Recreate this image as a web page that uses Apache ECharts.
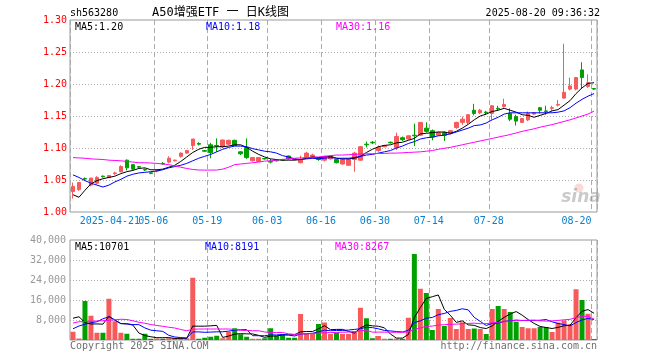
<!DOCTYPE html>
<html><head><meta charset="utf-8">
<script src="https://cdn.jsdelivr.net/npm/echarts/dist/echarts.min.js"></script>
<style>html,body{margin:0;padding:0;background:#fff}#c{width:660px;height:360px}</style>
</head><body><div id="c"></div>
<script>
const dates = ['2025-04-10','2025-04-11','2025-04-14','2025-04-15','2025-04-16','2025-04-17','2025-04-18','2025-04-21','2025-04-22','2025-04-23',
'2025-04-24','2025-04-25','2025-04-28','2025-04-29','2025-05-06','2025-05-07','2025-05-08','2025-05-09','2025-05-12','2025-05-13',
'2025-05-14','2025-05-15','2025-05-16','2025-05-19','2025-05-20','2025-05-21','2025-05-22','2025-05-23','2025-05-26','2025-05-27',
'2025-05-28','2025-05-29','2025-05-30','2025-06-03','2025-06-04','2025-06-05','2025-06-06','2025-06-09','2025-06-10','2025-06-11',
'2025-06-12','2025-06-13','2025-06-16','2025-06-17','2025-06-18','2025-06-19','2025-06-23','2025-06-24','2025-06-25','2025-06-26',
'2025-06-27','2025-06-30','2025-07-01','2025-07-02','2025-07-03','2025-07-07','2025-07-08','2025-07-09','2025-07-10','2025-07-11',
'2025-07-14','2025-07-15','2025-07-16','2025-07-17','2025-07-18','2025-07-21','2025-07-22','2025-07-23','2025-07-24','2025-07-25',
'2025-07-28','2025-07-29','2025-07-30','2025-07-31','2025-08-01','2025-08-04','2025-08-05','2025-08-06','2025-08-07','2025-08-08',
'2025-08-11','2025-08-12','2025-08-13','2025-08-14','2025-08-15','2025-08-18','2025-08-19','2025-08-20'];

const opens = [1.032,1.035,1.0522,1.042,1.045,1.056,1.054,1.060,1.063,1.081,
1.074,1.071,1.0665,1.0612,1.064,1.076,1.078,1.080,1.087,1.092,
1.104,1.107,1.096,1.105,1.104,1.102,1.106,1.112,1.094,1.101,
1.080,1.079,1.0835,1.079,1.081,1.082,1.0875,1.0825,1.077,1.085,
1.084,1.085,1.081,1.083,1.082,1.075,1.073,1.082,1.081,1.106,
1.109,1.096,1.102,1.109,1.101,1.116,1.114,1.120,1.120,1.131,
1.127,1.120,1.124,1.123,1.132,1.140,1.140,1.159,1.155,1.156,
1.154,1.162,1.165,1.154,1.149,1.140,1.144,1.153,1.163,1.158,
1.162,1.167,1.178,1.192,1.192,1.222,1.196,1.193];

const closes = [1.040,1.046,1.0515,1.053,1.054,1.055,1.057,1.061,1.071,1.069,
1.067,1.070,1.0656,1.0604,1.065,1.075,1.084,1.081,1.092,1.096,
1.114,1.106,1.095,1.093,1.103,1.1125,1.112,1.104,1.091,1.085,
1.085,1.085,1.083,1.078,1.080,1.081,1.083,1.082,1.082,1.092,
1.089,1.082,1.087,1.087,1.077,1.082,1.082,1.092,1.102,1.105,
1.108,1.101,1.104,1.108,1.118,1.113,1.119,1.119,1.140,1.126,
1.117,1.124,1.120,1.127,1.140,1.145,1.152,1.154,1.159,1.155,
1.166,1.161,1.168,1.145,1.142,1.146,1.154,1.155,1.159,1.157,
1.163,1.168,1.187,1.197,1.210,1.210,1.202,1.192];

const lows = [1.021,1.033,1.050,1.040,1.043,1.054,1.053,1.058,1.062,1.065,
1.065,1.068,1.064,1.059,1.062,1.074,1.076,1.079,1.085,1.091,
1.097,1.104,1.094,1.084,1.094,1.100,1.104,1.103,1.089,1.083,
1.079,1.078,1.082,1.076,1.079,1.080,1.082,1.081,1.076,1.083,
1.083,1.080,1.079,1.082,1.076,1.074,1.072,1.063,1.080,1.101,
1.106,1.094,1.101,1.107,1.097,1.111,1.113,1.103,1.119,1.124,
1.112,1.119,1.111,1.121,1.130,1.136,1.137,1.151,1.153,1.152,
1.144,1.158,1.163,1.142,1.135,1.139,1.142,1.152,1.154,1.152,
1.158,1.165,1.177,1.190,1.190,1.193,1.194,1.191];

const highs = [1.046,1.046,1.054,1.053,1.056,1.057,1.058,1.063,1.073,1.082,
1.075,1.072,1.068,1.062,1.066,1.078,1.087,1.082,1.093,1.097,
1.114,1.109,1.097,1.108,1.115,1.113,1.113,1.113,1.095,1.115,
1.086,1.086,1.084,1.083,1.082,1.083,1.088,1.083,1.088,1.094,
1.091,1.086,1.088,1.088,1.083,1.084,1.084,1.094,1.103,1.110,
1.111,1.104,1.105,1.110,1.124,1.118,1.120,1.138,1.140,1.140,
1.129,1.126,1.126,1.128,1.141,1.149,1.153,1.169,1.161,1.158,
1.167,1.166,1.177,1.162,1.152,1.147,1.157,1.156,1.164,1.166,
1.166,1.175,1.263,1.210,1.211,1.234,1.215,1.193];

const ma5 = [1.027,1.023,1.034,1.044,1.049,1.052,1.054,1.056,1.060,1.063,
1.065,1.068,1.069,1.066,1.066,1.067,1.070,1.073,1.079,1.086,
1.093,1.098,1.101,1.101,1.102,1.102,1.103,1.105,1.105,1.101,
1.095,1.090,1.086,1.083,1.082,1.081,1.081,1.081,1.082,1.084,
1.086,1.085,1.086,1.087,1.084,1.083,1.083,1.084,1.087,1.093,
1.098,1.102,1.104,1.105,1.108,1.109,1.112,1.115,1.122,1.123,
1.124,1.125,1.125,1.123,1.126,1.131,1.137,1.144,1.150,1.153,
1.157,1.159,1.162,1.159,1.156,1.152,1.151,1.148,1.151,1.154,
1.158,1.160,1.167,1.174,1.185,1.194,1.201,1.202];

const ma10 = [1.058,1.054,1.049,1.045,1.042,1.039,1.042,1.047,1.051,1.056,
1.059,1.061,1.062,1.063,1.064,1.066,1.069,1.071,1.073,1.076,
1.080,1.084,1.087,1.090,1.094,1.098,1.101,1.103,1.103,1.102,
1.099,1.097,1.095,1.094,1.092,1.088,1.086,1.083,1.082,1.083,
1.084,1.083,1.084,1.085,1.084,1.084,1.084,1.085,1.087,1.089,
1.090,1.092,1.094,1.096,1.100,1.103,1.107,1.110,1.114,1.116,
1.117,1.119,1.120,1.122,1.125,1.128,1.131,1.135,1.136,1.139,
1.144,1.148,1.153,1.155,1.155,1.155,1.155,1.155,1.155,1.155,
1.155,1.156,1.158,1.163,1.170,1.176,1.181,1.185];

const ma30 = [1.085,1.0845,1.084,1.083,1.0825,1.082,1.081,1.0805,1.080,1.079,
1.078,1.077,1.077,1.0765,1.076,1.075,1.074,1.072,1.070,1.068,
1.0665,1.0656,1.0655,1.0655,1.0656,1.067,1.070,1.074,1.075,1.076,
1.077,1.078,1.0795,1.080,1.081,1.082,1.0835,1.084,1.0845,1.085,
1.0855,1.086,1.087,1.088,1.089,1.089,1.0895,1.090,1.0905,1.091,
1.091,1.0915,1.0915,1.092,1.092,1.0925,1.093,1.0935,1.094,1.095,
1.096,1.098,1.0995,1.101,1.103,1.105,1.107,1.109,1.111,1.113,
1.115,1.117,1.119,1.121,1.1235,1.126,1.128,1.130,1.1325,1.1345,
1.1365,1.139,1.1415,1.144,1.147,1.150,1.153,1.1575];

const volumes = [3300,600,15600,9700,2900,2900,16500,7500,2900,2500,
500,500,2500,500,600,500,700,800,700,700,
24900,500,900,1300,1700,700,3300,4700,2300,1300,
500,500,700,4700,1700,2400,900,900,10400,2400,
2400,6400,7000,2400,3000,2400,2400,3600,12900,8700,
700,1600,500,500,600,500,8900,34400,20500,18800,
4000,12400,5600,8800,4400,7100,4400,4600,4400,2400,
12400,13600,12400,11200,7300,5200,4700,4700,5200,5200,
3200,7000,7800,6300,20300,16000,10500,400];

const vma5 = [8700,9300,7000,6400,6420,6340,9520,7900,6540,6460,
5980,2780,1780,1300,920,920,960,620,660,680,
5560,5520,5540,5660,5860,1020,1580,2340,2540,2460,
2420,1860,1060,1540,1620,2000,2080,2120,3260,3400,
3400,4500,5720,4120,4240,4240,3440,2760,4860,6000,
5660,5500,4880,2400,780,740,2200,8980,12980,16620,
17320,18020,12260,9920,7040,7660,6060,5860,4980,4580,
5640,7480,9040,10400,11380,9940,8160,6620,5420,5000,
4600,5060,5680,5900,8920,11480,12180,10700];

const vma10 = [4500,5600,6300,6900,7300,8500,9300,8000,6600,6440,
6160,6150,4840,3920,3690,3450,1870,1200,980,800,
3240,3240,3080,3160,3270,3290,3550,3940,4100,4160,
1720,1720,1700,2040,2040,2210,1970,1590,2400,2510,
2700,3290,3920,3690,3820,3820,3970,4240,4490,5120,
4950,4470,3820,3630,3390,3200,3850,6930,7690,8700,
9030,10110,10620,11450,11830,12490,12040,9060,7450,5810,
6650,6770,7450,7690,7980,7790,7820,7830,7910,8190,
7270,6610,6150,5660,6960,8040,8620,8190];

const vma30 = [6800,7300,7400,7500,7600,7700,7900,8100,8300,8200,
7700,7100,6700,6200,5800,5500,5100,4800,4200,3700,
4300,4400,4400,4400,4400,4400,4400,4200,3900,3800,
3707,3703,3207,3040,3000,2983,2463,2243,2493,2490,
2553,2750,2900,2963,3043,3107,3163,3257,3663,3930,
3123,3160,3147,3120,3083,3077,3263,4253,4860,5443,
5560,5957,6120,6257,6347,6503,6620,6743,6543,6543,
6877,7117,7297,7590,7733,7827,7903,7940,7683,7567,
7650,7830,8073,8267,8923,9440,9493,8360];

// axis ticks / labels
const priceMin = 1.00, priceMax = 1.30, priceStep = 0.05;
const volMin = 0, volMax = 40000, volStep = 8000;
const firstLabelIdx = [7];                                   // full-date label
const labelIdx = [14, 23, 33, 42, 51, 60, 70, 87];           // MM-DD labels
const volSplitIdx = [14, 23, 33, 42, 51, 60, 70, 87];

const headerCode = 'sh563280';
const headerTitle = 'A50增强ETF 一 日K线图';
const headerTime = '2025-08-20 09:36:32';
const legendPrice = ['MA5:1.20', 'MA10:1.18', 'MA30:1.16'];
const legendVol = ['MA5:10701', 'MA10:8191', 'MA30:8267'];

const RED = '#f65a5a', GREEN = '#00a000';
const FONT = '"DejaVu Sans Mono", "Liberation Mono", "Noto Sans CJK SC", monospace';
const XCOL = '#0a80d0';

const kData = opens.map((o, i) => [o, closes[i], lows[i], highs[i]]);
const volData = volumes.map((v, i) => ({ value: v, itemStyle: { color: closes[i] >= opens[i] ? RED : GREEN } }));

const dashV = { color: '#aaa', type: [5, 3], width: 1 };
const dotH = { color: '#aaa', type: [1, 2], width: 1 };

function txt(t, x, y, color, size, align, extra) {
  return Object.assign({ type: 'text', x: x, y: y, silent: true, z: 100,
    style: { text: t, fill: color, fontSize: size, fontFamily: FONT, align: align || 'left', verticalAlign: 'middle' } }, extra || {});
}
const inList = (arr) => (i) => arr.indexOf(i) >= 0;
const isLabel = inList(labelIdx);
const isFirst = inList(firstLabelIdx);
const isVolSplit = inList(volSplitIdx);
const richBase = { color: XCOL, fontFamily: FONT, fontSize: 10 };

const chart = echarts.init(document.getElementById('c'), null, { renderer: 'canvas' });
const option = {
  animation: false,
  backgroundColor: '#fff',
  grid: [
    { left: 70, top: 20, width: 527, height: 192, show: true, borderColor: '#999', borderWidth: 1, containLabel: false, outerBoundsMode: 'none' },
    { left: 70, top: 240, width: 527, height: 100, show: true, borderColor: '#999', borderWidth: 1, containLabel: false, outerBoundsMode: 'none' }
  ],
  xAxis: [
    { type: 'category', gridIndex: 0, data: dates, boundaryGap: true, position: 'bottom',
      axisLine: { show: false }, axisTick: { show: false, interval: isLabel },
      axisLabel: { show: true, interval: isLabel, hideOverlap: false, showMinLabel: true, showMaxLabel: true, margin: 4,
        color: XCOL, fontFamily: FONT, fontSize: 10,
        formatter: (v, i) => (i === labelIdx[labelIdx.length - 1] ? '{e|' : '{a|') + v.slice(5) + '}',
        rich: {
          a: Object.assign({ padding: [0, 7, 0, 0] }, richBase),
          e: Object.assign({ padding: [0, 35, 0, 0] }, richBase)
        } },
      splitLine: { show: true, interval: isLabel, lineStyle: dashV } },
    { type: 'category', gridIndex: 1, data: dates, boundaryGap: true,
      axisLine: { show: false }, axisTick: { show: false, interval: isVolSplit }, axisLabel: { show: false, interval: isVolSplit },
      splitLine: { show: true, interval: isVolSplit, lineStyle: dashV } },
    { type: 'category', gridIndex: 0, data: dates, boundaryGap: true, position: 'bottom', offset: 0,
      axisLine: { show: false }, axisTick: { show: false, interval: isFirst },
      axisLabel: { show: true, interval: isFirst, hideOverlap: false, showMinLabel: true, showMaxLabel: true, margin: 4,
        color: XCOL, fontFamily: FONT, fontSize: 10,
        formatter: (v) => '{f|' + v + '}',
        rich: { f: Object.assign({ padding: [0, 10, 0, 0] }, richBase) } },
      splitLine: { show: true, interval: isFirst, lineStyle: dashV } }
  ],
  yAxis: [
    { type: 'value', gridIndex: 0, min: priceMin, max: priceMax, interval: priceStep, scale: false,
      axisLine: { show: false }, axisTick: { show: false },
      axisLabel: { color: '#f00', fontFamily: FONT, fontSize: 10, margin: 3, formatter: (v) => v.toFixed(2) },
      splitLine: { show: true, showMinLine: false, showMaxLine: false, lineStyle: dotH } },
    { type: 'value', gridIndex: 1, min: volMin, max: volMax, interval: volStep,
      axisLine: { show: false }, axisTick: { show: false },
      axisLabel: { color: '#999', fontFamily: FONT, fontSize: 10, margin: 4, showMinLabel: false },
      splitLine: { show: true, showMinLine: false, showMaxLine: false, lineStyle: dotH } }
  ],
  series: [
    { type: 'candlestick', xAxisIndex: 0, yAxisIndex: 0, data: kData, barWidth: 4, silent: true,
      itemStyle: { color: RED, color0: GREEN, borderColor: RED, borderColor0: GREEN, borderWidth: 1 } },
    { type: 'line', xAxisIndex: 0, yAxisIndex: 0, data: ma5, symbol: 'none', silent: true, lineStyle: { color: '#000', width: 1 }, z: 5 },
    { type: 'line', xAxisIndex: 0, yAxisIndex: 0, data: ma10, symbol: 'none', silent: true, lineStyle: { color: '#00f', width: 1 }, z: 5 },
    { type: 'line', xAxisIndex: 0, yAxisIndex: 0, data: ma30, symbol: 'none', silent: true, lineStyle: { color: '#f0f', width: 1 }, z: 5 },
    { type: 'bar', xAxisIndex: 1, yAxisIndex: 1, data: volData, barWidth: 5, silent: true },
    { type: 'line', xAxisIndex: 1, yAxisIndex: 1, data: vma5, symbol: 'none', silent: true, lineStyle: { color: '#000', width: 1 }, z: 5 },
    { type: 'line', xAxisIndex: 1, yAxisIndex: 1, data: vma10, symbol: 'none', silent: true, lineStyle: { color: '#00f', width: 1 }, z: 5 },
    { type: 'line', xAxisIndex: 1, yAxisIndex: 1, data: vma30, symbol: 'none', silent: true, lineStyle: { color: '#f0f', width: 1 }, z: 5 }
  ],
  graphic: [
    txt(headerCode, 70, 13, '#000', 10),
    txt(headerTitle, 152, 13, '#000', 12),
    txt(headerTime, 600, 13, '#000', 10, 'right'),
    txt(legendPrice[0], 75, 27, '#000', 10),
    txt(legendPrice[1], 206, 27, '#00f', 10),
    txt(legendPrice[2], 336, 27, '#f0f', 10),
    txt(legendVol[0], 75, 247, '#000', 10),
    txt(legendVol[1], 205, 247, '#00f', 10),
    txt(legendVol[2], 335, 247, '#f0f', 10),
    txt('Copyright 2025 SINA.COM', 70, 346, '#707070', 10),
    txt('http://finance.sina.com.cn', 597, 346, '#707070', 10, 'right'),
    { type: 'circle', silent: true, z: 1, shape: { cx: 579, cy: 188, r: 4.5 }, style: { fill: 'rgba(240,130,130,0.3)' } },
    { type: 'text', silent: true, z: 1, x: 581, y: 198,
      style: { text: 'sina', fontSize: 17, fontStyle: 'italic', fontWeight: 'bold', fontFamily: 'DejaVu Sans', fill: 'rgba(150,150,150,0.5)', align: 'center', verticalAlign: 'middle' } }
  ]
};
chart.setOption(option);
</script></body></html>
